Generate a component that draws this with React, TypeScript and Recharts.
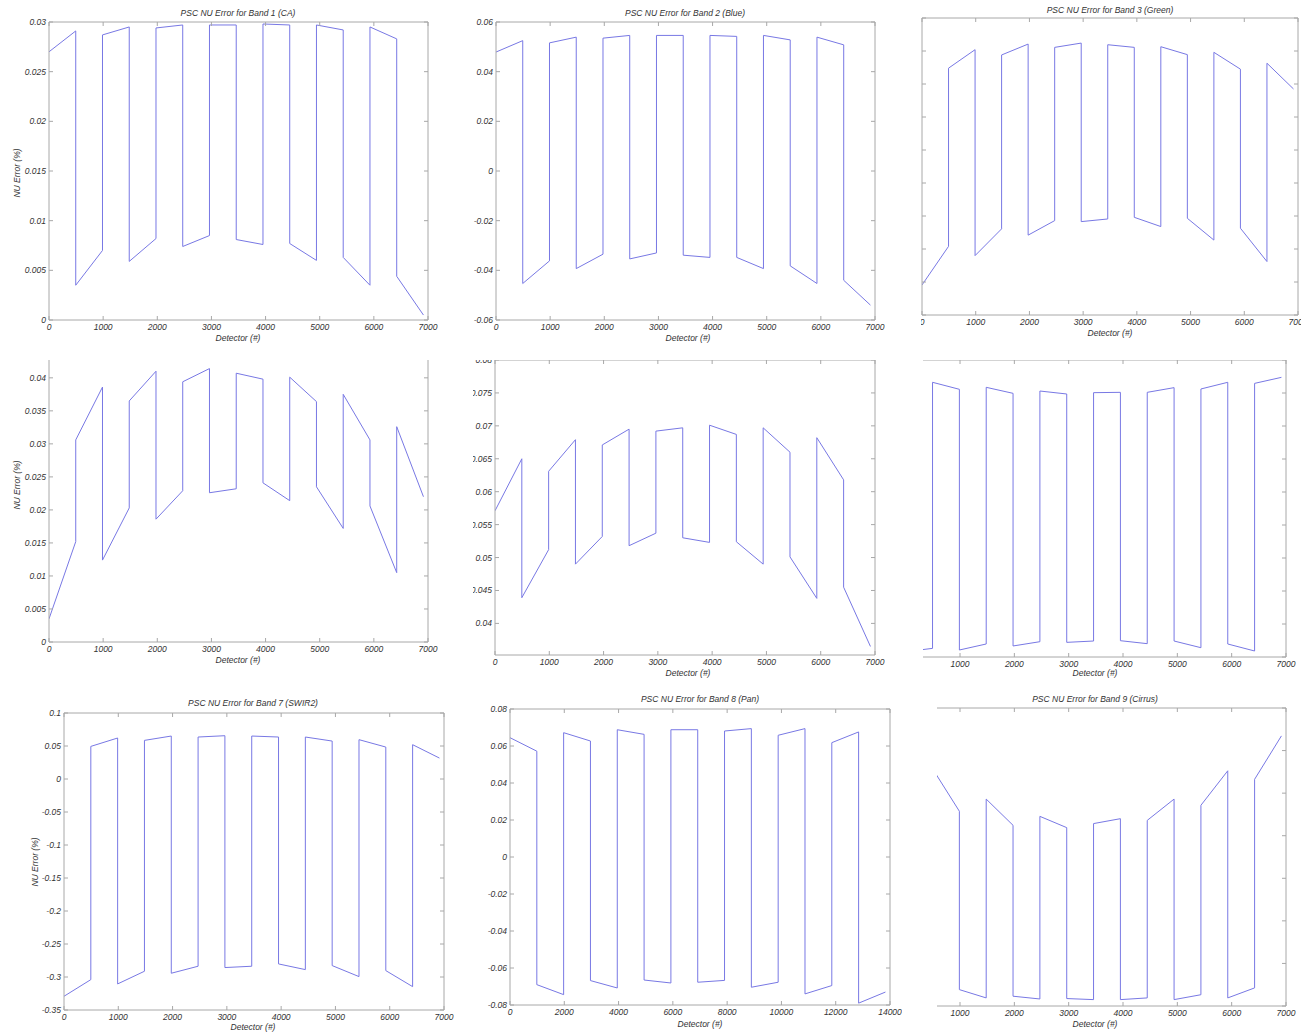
import React from 'react';
import { LineChart, Line, XAxis, YAxis, ReferenceLine } from 'recharts';

const LINE = '#7878e4';
const FRAME = '#a8a8a8';
const TXT = '#333333';
const FONT = '"Liberation Sans", Arial, Helvetica, sans-serif';

// detector edges of the 14 SCAs
const SCA_EDGES = [0, 494, 988, 1482, 1976, 2470, 2964, 3458, 3952, 4446, 4940, 5434, 5928, 6422, 6916];
const PAN_EDGES = [0, 988, 1976, 2964, 3952, 4940, 5928, 6916, 7904, 8892, 9880, 10868, 11856, 12844, 13832];

// tick values
const X_TICKS = [0, 1000, 2000, 3000, 4000, 5000, 6000, 7000];
const X_TICKS_CROP = [1000, 2000, 3000, 4000, 5000, 6000, 7000];
const X_TICKS_PAN = [0, 2000, 4000, 6000, 8000, 10000, 12000, 14000];
const Y1_TICKS = [0, 0.005, 0.01, 0.015, 0.02, 0.025, 0.03];
const Y2_TICKS = [-0.06, -0.04, -0.02, 0, 0.02, 0.04, 0.06];
const Y3_TICKS = [-0.05, -0.04, -0.03, -0.02, -0.01, 0, 0.01, 0.02, 0.03, 0.04];
const Y4_TICKS = [0, 0.005, 0.01, 0.015, 0.02, 0.025, 0.03, 0.035, 0.04];
const Y5_TICKS = [0.04, 0.045, 0.05, 0.055, 0.06, 0.065, 0.07, 0.075, 0.08];
const Y6_TICKS = [-0.35, -0.3, -0.25, -0.2, -0.15, -0.1, -0.05, 0, 0.05, 0.1];
const Y7_TICKS = [-0.35, -0.3, -0.25, -0.2, -0.15, -0.1, -0.05, 0, 0.05, 0.1];
const Y8_TICKS = [-0.08, -0.06, -0.04, -0.02, 0, 0.02, 0.04, 0.06, 0.08];
const Y9_TICKS = [-0.06, -0.04, -0.02, 0, 0.02, 0.04, 0.06, 0.08];

// NU error at the start and end of each SCA
const band1Start = [0.027, 0.0035, 0.0287, 0.0059, 0.0294, 0.0074, 0.0297, 0.0081, 0.0298, 0.0077, 0.0297, 0.0063, 0.0295, 0.0044];
const band1End = [0.0291, 0.007, 0.0295, 0.0082, 0.0297, 0.0085, 0.0297, 0.0076, 0.0297, 0.006, 0.0292, 0.0035, 0.0283, 0.0005];

const band2Start = [0.0479, -0.0453, 0.0516, -0.0393, 0.0535, -0.0354, 0.0546, -0.0339, 0.0546, -0.0348, 0.0546, -0.0382, 0.0539, -0.044];
const band2End = [0.0525, -0.0362, 0.0539, -0.0335, 0.0546, -0.033, 0.0546, -0.0348, 0.0542, -0.0393, 0.0528, -0.0453, 0.0508, -0.054];

const band3Start = [-0.0409, 0.0248, -0.032, 0.0288, -0.0258, 0.0311, -0.0217, 0.0319, -0.0204, 0.0313, -0.0207, 0.0296, -0.0237, 0.0263];
const band3End = [-0.0292, 0.0304, -0.0239, 0.0321, -0.0214, 0.0324, -0.0209, 0.0311, -0.0232, 0.0289, -0.0273, 0.0245, -0.0338, 0.0185];

const band4Start = [0.0035, 0.0306, 0.0124, 0.0365, 0.0186, 0.0394, 0.0226, 0.0407, 0.0241, 0.0401, 0.0235, 0.0375, 0.0206, 0.0326];
const band4End = [0.0152, 0.0386, 0.0203, 0.041, 0.0229, 0.0414, 0.0232, 0.0398, 0.0214, 0.0364, 0.0172, 0.0306, 0.0105, 0.022];

const band5Start = [0.0571, 0.0439, 0.0631, 0.049, 0.0671, 0.0518, 0.0692, 0.053, 0.0701, 0.0524, 0.0697, 0.0501, 0.0682, 0.0455];
const band5End = [0.065, 0.0512, 0.0679, 0.0532, 0.0695, 0.0537, 0.0697, 0.0523, 0.0687, 0.049, 0.066, 0.0438, 0.0618, 0.0365];

const band6Start = [-0.342, 0.0662, -0.3394, 0.0586, -0.3333, 0.053, -0.3278, 0.0505, -0.3253, 0.051, -0.3258, 0.0561, -0.3303, 0.0646];
const band6End = [-0.3369, 0.0556, -0.3303, 0.0495, -0.3268, 0.0485, -0.3258, 0.051, -0.3298, 0.0581, -0.3359, 0.0662, -0.3409, 0.0737];

const band7Start = [-0.3292, 0.0494, -0.3105, 0.0585, -0.2943, 0.0636, -0.2857, 0.0651, -0.2802, 0.0636, -0.2827, 0.0596, -0.2903, 0.052];
const band7End = [-0.304, 0.0621, -0.2913, 0.0651, -0.2837, 0.0656, -0.2837, 0.0636, -0.2888, 0.0575, -0.2994, 0.0484, -0.3146, 0.0317];

const band8Start = [0.0645, -0.069, 0.0672, -0.0668, 0.0688, -0.0665, 0.0688, -0.0677, 0.0681, -0.0704, 0.0658, -0.074, 0.0618, -0.079];
const band8End = [0.0572, -0.0744, 0.0627, -0.0708, 0.0663, -0.0681, 0.0688, -0.0667, 0.0694, -0.0677, 0.0694, -0.0695, 0.0676, -0.073];

const band9Start = [null, 0.0515, -0.0523, 0.0372, -0.0554, 0.0291, -0.0565, 0.0257, -0.057, 0.0272, -0.057, 0.0343, -0.0562, 0.0465];
const band9End = [null, 0.0315, -0.0562, 0.0249, -0.0567, 0.0238, -0.057, 0.028, -0.0562, 0.0372, -0.0547, 0.0505, -0.0515, 0.0669];

type Pt = { x: number; y: number };

function buildSeries(edges: number[], starts: (number | null)[], ends: (number | null)[]): Pt[] {
  const pts: Pt[] = [];
  for (let i = 0; i < starts.length; i++) {
    const s = starts[i];
    const e = ends[i];
    if (s === null || e === null) continue;
    pts.push({ x: edges[i], y: s });
    pts.push({ x: edges[i + 1], y: e });
  }
  return pts;
}

const fmt = (v: number) => parseFloat(Number(v).toFixed(4)).toString();

const textStyle: React.CSSProperties = {
  fontFamily: FONT,
  fontSize: 8.5,
  fontStyle: 'italic',
  fill: TXT,
};

type PanelCfg = {
  box: [number, number, number, number];
  plot: [number, number, number, number];
  xDomain: [number, number];
  xTicks: number[];
  yDomain: [number, number];
  yTicks: number[];
  showYLabels: boolean;
  borders: { left: boolean; top: boolean; right: boolean };
  data: Pt[];
  title?: [string, number, number];
  xLabel: [number, number];
  yLabel?: [number, number];
};

const panels: PanelCfg[] = [
  {
    box: [0, 0, 440, 345],
    plot: [49, 22, 428, 320],
    xDomain: [0, 7000], xTicks: X_TICKS,
    yDomain: [0, 0.03], yTicks: Y1_TICKS, showYLabels: true,
    borders: { left: true, top: true, right: true },
    data: buildSeries(SCA_EDGES, band1Start, band1End),
    title: ['PSC NU Error for Band 1 (CA)', 238, 13],
    xLabel: [238, 338], yLabel: [17, 173],
  },
  {
    box: [440, 0, 481, 345],
    plot: [496, 22, 875, 320],
    xDomain: [0, 7000], xTicks: X_TICKS,
    yDomain: [-0.06, 0.06], yTicks: Y2_TICKS, showYLabels: true,
    borders: { left: true, top: true, right: true },
    data: buildSeries(SCA_EDGES, band2Start, band2End),
    title: ['PSC NU Error for Band 2 (Blue)', 685, 13],
    xLabel: [688, 338],
  },
  {
    box: [921, 0, 380, 345],
    plot: [922, 18, 1298, 315],
    xDomain: [0, 7000], xTicks: X_TICKS,
    yDomain: [-0.05, 0.04], yTicks: Y3_TICKS, showYLabels: false,
    borders: { left: true, top: true, right: true },
    data: buildSeries(SCA_EDGES, band3Start, band3End),
    title: ['PSC NU Error for Band 3 (Green)', 1110, 10],
    xLabel: [1110, 333],
  },
  {
    box: [0, 360, 440, 318],
    plot: [49, 360, 428, 642],
    xDomain: [0, 7000], xTicks: X_TICKS,
    yDomain: [0, 0.0427], yTicks: Y4_TICKS, showYLabels: true,
    borders: { left: true, top: false, right: true },
    data: buildSeries(SCA_EDGES, band4Start, band4End),
    xLabel: [238, 660], yLabel: [17, 485],
  },
  {
    box: [473, 360, 448, 318],
    plot: [495, 360, 875, 655],
    xDomain: [0, 7000], xTicks: X_TICKS,
    yDomain: [0.0352, 0.08], yTicks: Y5_TICKS, showYLabels: true,
    borders: { left: true, top: true, right: true },
    data: buildSeries(SCA_EDGES, band5Start, band5End),
    xLabel: [688, 673],
  },
  {
    box: [923, 360, 378, 318],
    plot: [922, 360, 1286, 657],
    xDomain: [300, 7000], xTicks: X_TICKS_CROP,
    yDomain: [-0.35, 0.1], yTicks: Y6_TICKS, showYLabels: false,
    borders: { left: false, top: true, right: true },
    data: buildSeries(SCA_EDGES, band6Start, band6End),
    xLabel: [1095, 673],
  },
  {
    box: [0, 678, 462, 354],
    plot: [64, 713, 444, 1010],
    xDomain: [0, 7000], xTicks: X_TICKS,
    yDomain: [-0.35, 0.1], yTicks: Y7_TICKS, showYLabels: true,
    borders: { left: true, top: true, right: true },
    data: buildSeries(SCA_EDGES, band7Start, band7End),
    title: ['PSC NU Error for Band 7 (SWIR2)', 253, 703],
    xLabel: [253, 1027], yLabel: [35, 862],
  },
  {
    box: [462, 678, 440, 354],
    plot: [510, 709, 890, 1005],
    xDomain: [0, 14000], xTicks: X_TICKS_PAN,
    yDomain: [-0.08, 0.08], yTicks: Y8_TICKS, showYLabels: true,
    borders: { left: true, top: true, right: true },
    data: buildSeries(PAN_EDGES, band8Start, band8End),
    title: ['PSC NU Error for Band 8 (Pan)', 700, 699],
    xLabel: [700, 1024],
  },
  {
    box: [937, 678, 364, 354],
    plot: [936, 708, 1286, 1006],
    xDomain: [558, 7000], xTicks: X_TICKS_CROP,
    yDomain: [-0.06, 0.08], yTicks: Y9_TICKS, showYLabels: false,
    borders: { left: false, top: true, right: true },
    data: buildSeries(SCA_EDGES, band9Start, band9End),
    title: ['PSC NU Error for Band 9 (Cirrus)', 1095, 699],
    xLabel: [1095, 1024],
  },
];

function Panel({ cfg }: { cfg: PanelCfg }) {
  const [bl, bt, bw, bh] = cfg.box;
  const [pl, pt, pr, pb] = cfg.plot;
  const pw = pr - pl;
  const ph = pb - pt;
  const ML = 60;
  const MT = 20;
  const W = pw + 80;
  const H = ph + 50;
  const L = ML;
  const T = MT;
  const R = ML + pw;
  const B = MT + ph;

  const xTick = (p: any) => (
    <g>
      <line x1={p.x} y1={B} x2={p.x} y2={B - 4} stroke={FRAME} />
      {cfg.borders.top && <line x1={p.x} y1={T} x2={p.x} y2={T + 4} stroke={FRAME} />}
      <text x={p.x} y={B + 10} textAnchor="middle" style={textStyle}>
        {fmt(p.payload.value)}
      </text>
    </g>
  );
  const yTick = (p: any) => (
    <g>
      {cfg.borders.left && <line x1={L} y1={p.y} x2={L + 4} y2={p.y} stroke={FRAME} />}
      {cfg.borders.right && <line x1={R} y1={p.y} x2={R - 4} y2={p.y} stroke={FRAME} />}
      {cfg.showYLabels && (
        <text x={L - 3} y={p.y + 3} textAnchor="end" style={textStyle}>
          {fmt(p.payload.value)}
        </text>
      )}
    </g>
  );

  return (
    <div style={{ position: 'absolute', left: bl, top: bt, width: bw, height: bh, overflow: 'hidden' }}>
      <div style={{ position: 'absolute', left: pl - ML - bl, top: pt - MT - bt }}>
        <LineChart width={W} height={H} data={cfg.data} margin={{ top: MT, right: 20, bottom: 10, left: 20 }}>
          <XAxis
            type="number"
            dataKey="x"
            domain={cfg.xDomain}
            ticks={cfg.xTicks}
            interval={0}
            allowDataOverflow
            height={20}
            axisLine={{ stroke: FRAME }}
            tickLine={false}
            tick={xTick}
          />
          <YAxis
            type="number"
            domain={cfg.yDomain}
            ticks={cfg.yTicks}
            interval={0}
            allowDataOverflow
            width={40}
            axisLine={cfg.borders.left ? { stroke: FRAME } : false}
            tickLine={false}
            tick={yTick}
          />
          {cfg.borders.top && <ReferenceLine y={cfg.yDomain[1]} stroke={FRAME} />}
          {cfg.borders.right && <ReferenceLine x={cfg.xDomain[1]} stroke={FRAME} />}
          <Line
            type="linear"
            dataKey="y"
            stroke={LINE}
            strokeWidth={1}
            dot={false}
            isAnimationActive={false}
          />
        </LineChart>
      </div>
    </div>
  );
}

const htmlText: React.CSSProperties = {
  position: 'absolute',
  fontFamily: FONT,
  fontSize: 8.5,
  fontStyle: 'italic',
  color: TXT,
  whiteSpace: 'nowrap',
  lineHeight: 1,
};

export default function App() {
  return (
    <div
      style={{
        position: 'absolute',
        left: 0,
        top: 0,
        width: 1301,
        height: 1032,
        background: '#ffffff',
        overflow: 'hidden',
      }}
    >
      {panels.map((cfg, i) => (
        <Panel key={i} cfg={cfg} />
      ))}
      {panels.map((cfg, i) => (
        <React.Fragment key={'t' + i}>
          {cfg.title && (
            <div style={{ ...htmlText, left: cfg.title[1], top: cfg.title[2], transform: 'translate(-50%, -50%)' }}>
              {cfg.title[0]}
            </div>
          )}
          <div style={{ ...htmlText, left: cfg.xLabel[0], top: cfg.xLabel[1], transform: 'translate(-50%, -50%)' }}>
            Detector (#)
          </div>
          {cfg.yLabel && (
            <div
              style={{
                ...htmlText,
                left: cfg.yLabel[0],
                top: cfg.yLabel[1],
                transform: 'translate(-50%, -50%) rotate(-90deg)',
              }}
            >
              NU Error (%)
            </div>
          )}
        </React.Fragment>
      ))}
    </div>
  );
}
